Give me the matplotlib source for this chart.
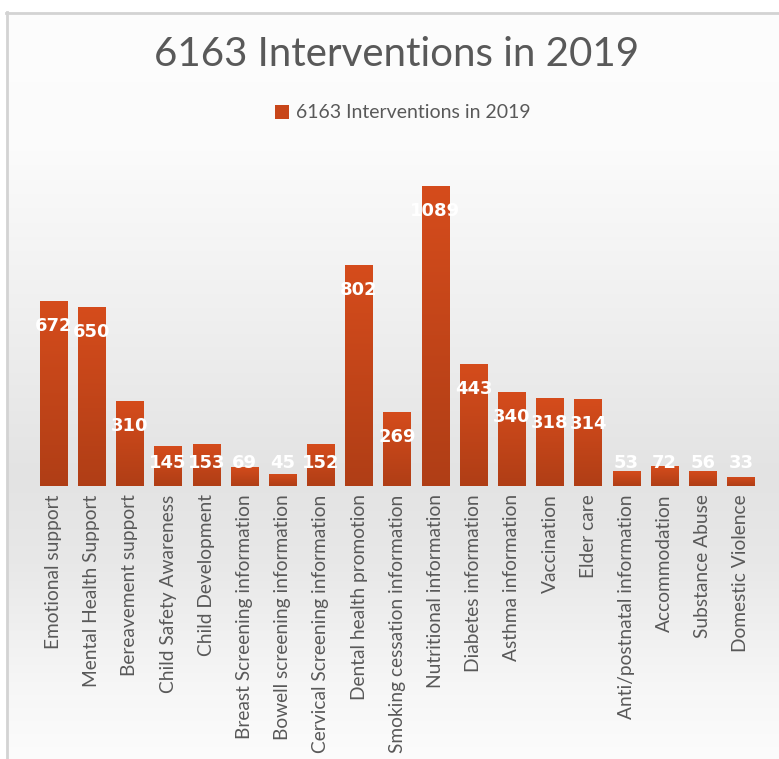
import numpy as np
import matplotlib
matplotlib.use("Agg")
import matplotlib.pyplot as plt
from matplotlib.patches import Patch
from matplotlib.lines import Line2D

categories = [
    "Emotional support", "Mental Health Support", "Bereavement support",
    "Child Safety Awareness", "Child Development", "Breast Screening information",
    "Bowell screening information", "Cervical Screening information",
    "Dental health promotion", "Smoking cessation information",
    "Nutritional information", "Diabetes information", "Asthma information",
    "Vaccination", "Elder care", "Anti/postnatal information", "Accommodation",
    "Substance Abuse", "Domestic Violence",
]
values = [672, 650, 310, 145, 153, 69, 45, 152, 802, 269, 1089, 443, 340, 318,
          314, 53, 72, 56, 33]
series_name = "6163 Interventions in 2019"
title_text = "6163 Interventions in 2019"

W, H = 779, 759
fig = plt.figure(figsize=(W / 100, H / 100), dpi=100)

# background gradient + frame
bg = fig.add_axes([0, 0, 1, 1], zorder=-10)
bg.set_xlim(0, W)
bg.set_ylim(H, 0)
bg.axis("off")
ys = np.arange(H)
prof = np.interp(ys, [0, 140, 300, 470, 560, 680, 759],
                 [253, 251, 240, 227, 232, 246, 252]) / 255.0
img = np.repeat(prof[:, None], 2, axis=1)
rgb = np.dstack([img, img, img])
bg.imshow(rgb, extent=(7, W, H, 13), aspect="auto", interpolation="bilinear")
bg.add_line(Line2D([6, W], [12.5, 12.5], color="#d3d3d3", lw=2))
bg.add_line(Line2D([7, 7], [12, H], color="#d3d3d3", lw=2))
bg.fill_between([0, 6], 0, H, color="white")
bg.fill_between([0, W], 0, 11.5, color="white")

# main axes
x0, x1 = 34.4, 760.0
ybase, ytop = 486.0, 170.0
ax = fig.add_axes([x0 / W, (H - ybase) / H, (x1 - x0) / W, (ybase - ytop) / H])
ax.patch.set_alpha(0)
ymax = (ybase - ytop) / 0.2755
ax.set_ylim(0, ymax)
ax.set_xlim(-0.5, len(values) - 0.5)
pos = np.arange(len(values))
bars = ax.bar(pos, values, width=0.72, color="none", edgecolor="none")

top_c = np.array([0.835, 0.298, 0.110])
bot_c = np.array([0.690, 0.243, 0.086])
grad = np.linspace(0, 1, 64)[:, None, None]
grad_img = top_c * (1 - grad) + bot_c * grad
for b in bars:
    x, w, h = b.get_x(), b.get_width(), b.get_height()
    im = ax.imshow(grad_img, extent=(x, x + w, 0, h), aspect="auto",
                   origin="upper", zorder=2, interpolation="bilinear")
    im.set_clip_path(b)

px = ymax / (ybase - ytop)
for p, v in zip(pos, values):
    ly = max(v - 25 * px, (ybase - 463) * px)
    ax.text(p, ly, str(v), ha="center", va="center", color="white",
            fontsize=13, fontweight="bold", family="DejaVu Sans", zorder=5)

ax.set_xticks(pos)
ax.set_xticklabels(categories, rotation=90, color="#595959", fontsize=13.8,
                   family="Lato")
ax.tick_params(axis="x", length=0, pad=6)
ax.set_yticks([])
for s in ax.spines.values():
    s.set_visible(False)

fig.text(397 / W, 1 - 55 / H, title_text, ha="center", va="center",
         fontsize=29, color="#595959", family="Lato")

handle = Patch(facecolor="#c84619", edgecolor="none")
fig.legend([handle], [series_name], loc="center", bbox_to_anchor=(403 / W, 1 - 113 / H),
           frameon=False, prop={"family": "Lato", "size": 14},
           handlelength=0.7, handleheight=0.7, handletextpad=0.4,
           labelcolor="#595959")

fig.savefig("out.png", dpi=100)
